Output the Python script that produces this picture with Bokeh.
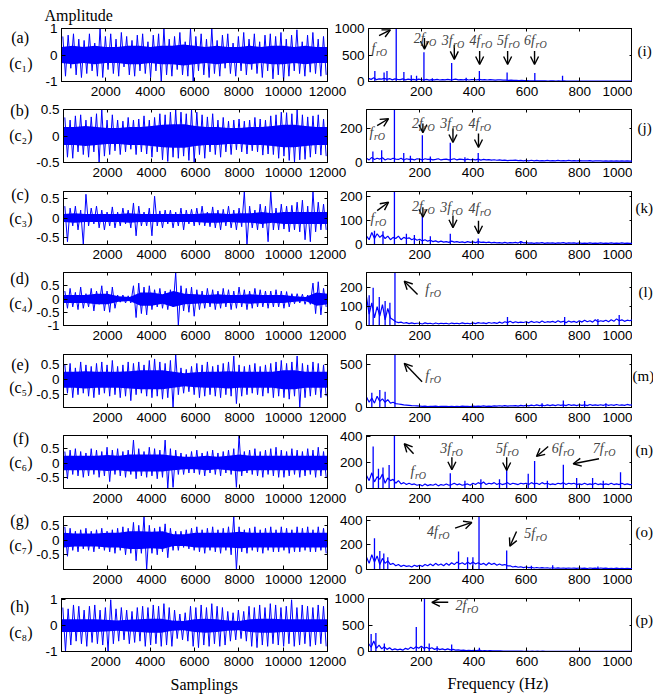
import numpy as np
from bokeh.plotting import figure
from bokeh.layouts import column, row
from bokeh.models import Range1d, LinearAxis, FixedTicker, Label, Arrow, OpenHead, Title
from bokeh.embed import file_html
from bokeh.resources import INLINE

BLUE = "#0000ff"
SANS = "Liberation Sans"
SERIF = "Liberation Serif"
ANN = "#444444"

# ---------------- left column: time signals (decimated samples) ----------
sig_a = [0.7,-0.8,0.75,-0.5,0.8,-0.75,0.6,-0.85,0.55,-0.7,
         0.8,-0.6,0.45,-0.8,1.0,-0.85,0.7,-0.55,0.8,-0.7,
         0.6,-0.8,0.85,-0.45,0.7,-0.75,0.55,-0.8,0.75,-0.6,
         0.8,-0.7,0.5,-0.85,0.75,-0.6,0.8,-1.0,1.0,-0.75,
         0.6,-0.8,0.7,-0.55,0.85,-0.75,0.5,-0.8,1.0,-1.0,
         0.7,-0.6,0.8,-0.75,0.6,-0.85,1.0,-0.7,0.55,-0.8,
         0.75,-0.5,0.8,-0.7,0.45,-0.8,0.7,-0.6,0.85,-0.75,
         0.6,-0.55,0.8,-0.7,0.5,-0.85,0.75,-0.6,0.8,-0.9,
         0.7,-0.75,0.85,-1.0,0.6,-0.8,0.75,-0.6,0.95,-0.7,
         0.5,-0.8,0.75,-0.65,0.85,-0.7,0.6,-0.8,0.7,-0.75]
sig_b = [0.35,-0.4,0.3,-0.42,0.38,-0.3,0.4,-0.35,0.3,-0.4,
         0.36,-0.3,0.42,-0.5,0.5,-0.38,0.3,-0.35,0.4,-0.28,
         0.3,-0.35,0.28,-0.3,0.35,-0.25,0.3,-0.35,0.32,-0.3,
         0.38,-0.34,0.3,-0.4,0.35,-0.3,0.42,-0.45,0.4,-0.48,
         0.45,-0.4,0.5,-0.42,0.45,-0.38,0.42,-0.46,0.5,-0.5,
         0.45,-0.35,0.4,-0.42,0.36,-0.3,0.42,-0.35,0.3,-0.4,
         0.35,-0.3,0.28,-0.35,0.3,-0.26,0.32,-0.3,0.28,-0.34,
         0.3,-0.28,0.35,-0.3,0.32,-0.36,0.3,-0.34,0.38,-0.35,
         0.4,-0.42,0.45,-0.38,0.44,-0.46,0.42,-0.5,0.5,-0.45,
         0.4,-0.44,0.36,-0.4,0.38,-0.34,0.4,-0.36,0.32,-0.38]
sig_c = [0.3,-0.6,0.25,-0.2,0.3,-0.3,0.2,-0.67,0.6,-0.2,
         0.25,-0.15,0.3,-0.25,0.2,-0.3,0.15,-0.2,0.28,-0.25,
         0.15,-0.2,0.25,-0.15,0.2,-0.25,0.38,-0.45,0.3,-0.2,
         0.15,-0.2,0.25,-0.45,0.55,-0.2,0.18,-0.25,0.2,-0.15,
         0.2,-0.25,0.15,-0.2,0.25,-0.3,0.2,-0.15,0.22,-0.2,
         0.25,-0.18,0.3,-0.2,0.15,-0.22,0.28,-0.25,0.2,-0.3,
         0.22,-0.2,0.3,-0.25,0.2,-0.3,0.25,-0.22,0.67,-0.67,
         0.3,-0.25,0.2,-0.3,0.35,-0.25,0.3,-0.6,0.67,-0.3,
         0.25,-0.3,0.35,-0.28,0.3,-0.35,0.32,-0.3,0.4,-0.35,
         0.45,-0.55,0.3,-0.6,0.67,-0.35,0.4,-0.3,0.35,-0.3]
sig_d = [0.3,-0.35,0.4,-0.3,0.25,-0.4,0.45,-0.35,0.2,-0.3,
         0.4,-0.45,0.3,-0.2,0.5,-0.45,0.3,-0.5,0.45,-0.35,
         0.15,-0.12,0.15,-0.15,0.12,-0.15,0.5,-0.7,0.6,-0.55,
         0.45,-0.6,0.5,-0.4,0.35,-0.3,0.4,-0.35,0.3,-0.4,
         0.35,-0.3,1.0,-1.0,0.5,-0.45,0.4,-0.5,0.45,-0.65,
         0.35,-0.4,0.3,-0.35,0.4,-0.3,0.35,-0.4,0.3,-0.35,
         0.4,-0.3,0.35,-0.4,0.3,-0.35,0.45,-0.3,0.35,-0.4,
         0.3,-0.35,0.4,-0.3,0.35,-0.3,0.3,-0.35,0.3,-0.3,
         0.35,-0.3,0.3,-0.35,0.28,-0.3,0.2,-0.18,0.2,-0.15,
         0.18,-0.2,0.15,-0.2,0.6,-0.55,0.65,-0.6,0.4,-0.3]
sig_e = [0.5,-0.45,0.55,-0.6,0.4,-0.5,0.6,-0.45,0.5,-0.55,
         0.45,-0.6,0.55,-0.5,0.6,-0.45,0.5,-0.55,0.65,-0.5,
         0.45,-0.6,0.5,-0.55,0.6,-0.7,0.55,-0.5,0.6,-0.45,
         0.5,-0.55,0.65,-0.6,0.7,-0.55,0.6,-0.65,0.55,-0.6,
         0.65,-0.93,0.85,-0.5,0.4,-0.45,0.35,-0.4,0.45,-0.5,
         0.55,-0.6,0.5,-0.55,0.6,-0.5,0.45,-0.55,0.5,-0.6,
         0.55,-0.5,0.6,-0.55,0.8,-0.8,0.5,-0.55,0.45,-0.5,
         0.5,-0.45,0.55,-0.5,0.45,-0.55,0.5,-0.45,0.55,-0.6,
         0.6,-0.55,0.65,-0.6,0.55,-0.65,0.6,-0.55,0.8,-0.93,
         0.55,-0.6,0.5,-0.55,0.6,-0.5,0.55,-0.6,0.5,-0.55]
sig_f = [0.4,-0.55,0.45,-0.4,0.5,-0.45,0.4,-0.5,0.35,-0.45,
         0.5,-0.4,0.45,-0.5,0.4,-0.45,0.55,-0.65,0.45,-0.4,
         0.5,-0.45,0.4,-0.5,0.45,-0.4,0.8,-0.55,0.5,-0.45,
         0.4,-0.5,0.55,-0.45,0.5,-0.55,0.45,-0.5,0.8,-0.89,
         0.5,-0.85,0.45,-0.4,0.35,-0.4,0.3,-0.35,0.4,-0.35,
         0.45,-0.4,0.35,-0.45,0.4,-0.35,0.45,-0.4,0.35,-0.45,
         0.4,-0.35,0.45,-0.4,0.5,-0.85,0.96,-0.45,0.4,-0.35,
         0.45,-0.4,0.5,-0.45,0.4,-0.5,0.45,-0.4,0.5,-0.45,
         0.55,-0.5,0.45,-0.5,0.4,-0.45,0.5,-0.4,0.45,-0.5,
         0.4,-0.45,0.5,-0.4,0.45,-0.5,0.55,-0.45,0.4,-0.5]
sig_g = [0.45,-0.55,0.4,-0.35,0.3,-0.4,0.35,-0.3,0.4,-0.35,
         0.3,-0.4,0.35,-0.3,0.4,-0.35,0.3,-0.4,0.35,-0.45,
         0.4,-0.35,0.45,-0.5,0.4,-0.45,0.6,-0.7,0.5,-0.45,
         0.8,-1.0,0.5,-0.45,0.4,-0.5,0.45,-0.4,0.55,-0.6,
         0.4,-0.35,0.3,-0.35,0.3,-0.25,0.35,-0.3,0.4,-0.35,
         0.45,-0.4,0.35,-0.45,0.4,-0.35,0.45,-0.4,0.35,-0.45,
         0.4,-0.35,0.45,-0.5,0.8,-1.0,0.45,-0.4,0.35,-0.45,
         0.4,-0.35,0.45,-0.4,0.35,-0.45,0.4,-0.35,0.45,-0.4,
         0.35,-0.4,0.45,-0.35,0.4,-0.45,0.35,-0.4,0.45,-0.4,
         0.4,-0.35,0.45,-0.4,0.35,-0.4,0.45,-0.35,0.4,-0.45]
sig_h = [0.7,-1.0,0.65,-0.75,0.8,-0.6,0.75,-0.7,0.6,-0.8,
         0.75,-0.65,0.8,-0.7,0.6,-0.75,0.7,-1.0,1.0,-0.7,
         0.65,-0.6,0.7,-0.55,0.6,-0.7,0.55,-0.65,0.7,-0.6,
         0.75,-0.8,0.7,-0.75,0.8,-0.7,0.75,-0.8,0.85,-0.75,
         0.7,-0.8,0.6,-0.5,0.45,-0.55,0.5,-0.6,0.75,-0.8,
         0.7,-0.85,0.8,-0.75,0.7,-0.8,0.85,-0.7,0.75,-0.8,
         0.7,-0.75,0.55,-0.6,0.5,-0.55,0.6,-0.5,0.55,-0.6,
         0.75,-0.8,0.7,-0.85,0.8,-0.75,0.7,-0.8,0.85,-0.7,
         0.8,-0.75,0.7,-0.8,0.75,-0.7,1.0,-0.8,0.7,-0.75,
         0.8,-0.7,0.75,-0.8,0.7,-0.75,0.8,-0.7,0.75,-0.8]

# dense core half-width of each signal, every 500 samples
core_a = [0.3,0.35,0.3,0.35,0.3,0.3,0.35,0.35,0.3,0.35,0.35,0.4,0.35,0.3,0.35,0.3,0.3,0.35,0.3,0.35,0.35,0.3,0.35,0.3,0.3]
core_b = [0.17,0.17,0.19,0.17,0.15,0.15,0.17,0.17,0.19,0.21,0.22,0.22,0.19,0.17,0.17,0.15,0.15,0.17,0.17,0.19,0.21,0.21,0.19,0.17,0.17]
core_c = [0.1,0.12,0.1,0.1,0.1,0.1,0.12,0.1,0.1,0.1,0.1,0.1,0.1,0.12,0.12,0.1,0.12,0.12,0.15,0.12,0.15,0.15,0.15,0.15,0.15]
core_d = [0.15,0.15,0.15,0.2,0.2,0.1,0.08,0.25,0.25,0.18,0.3,0.2,0.18,0.15,0.18,0.15,0.15,0.18,0.15,0.15,0.15,0.1,0.08,0.25,0.2]
core_e = [0.27,0.27,0.29,0.27,0.27,0.27,0.29,0.32,0.32,0.32,0.27,0.22,0.25,0.27,0.27,0.29,0.27,0.27,0.27,0.27,0.32,0.32,0.27,0.27,0.27]
core_f = [0.25,0.25,0.25,0.25,0.28,0.25,0.3,0.3,0.3,0.3,0.25,0.22,0.22,0.25,0.22,0.25,0.3,0.25,0.25,0.25,0.25,0.25,0.25,0.25,0.25]
core_g = [0.25,0.22,0.22,0.22,0.25,0.25,0.3,0.3,0.28,0.3,0.2,0.2,0.25,0.25,0.25,0.25,0.28,0.25,0.25,0.25,0.25,0.25,0.25,0.25,0.25]
core_h = [0.25,0.25,0.25,0.25,0.23,0.2,0.23,0.25,0.27,0.27,0.2,0.18,0.25,0.27,0.25,0.2,0.18,0.25,0.27,0.27,0.25,0.25,0.25,0.25,0.25]

left_yrange = [(-1, 1), (-0.5, 0.5), (-0.67, 0.67), (-1, 1), (-0.93, 0.85), (-0.89, 0.96), (-1.0, 0.8), (-1, 1.05)]
left_yticks = [[-1, 0, 1], [-0.5, 0, 0.5], [-0.5, 0, 0.5], [-1, -0.5, 0, 0.5], [-0.5, 0, 0.5],
               [-0.5, 0, 0.5], [-0.5, 0, 0.5], [-1, 0, 1]]
left_xticks = [2000, 4000, 6000, 8000, 10000, 12000]
left_tags = ["(a)", "(b)", "(c)", "(d)", "(e)", "(f)", "(g)", "(h)"]
left_ctags = ["(c\u2081)", "(c\u2082)", "(c\u2083)", "(c\u2084)", "(c\u2085)", "(c\u2086)", "(c\u2087)", "(c\u2088)"]

# ---------------- right column: spectra (floor every 10 Hz + discrete peaks) ----------------
floor_i = [60,40,70,35,50,45,60,40,55,30, 50,40,35,50,30,45,35,40,30,45, 35,30,40,25,35,30,40,28,35,30,
           40,30,35,45,30,35,30,40,28,35, 35,30,40,30,35,28,35,30,25,30, 30,25,28,22,25,20,22,18,20,15,
           15,12,14,10,12,10,12,10,8,10, 10,8,10,8,10,8,9,8,7,8, 8,7,8,7,8,6,7,8,6,7, 7,6,7,6,7,6,7,6,7,6, 6]
floor_j = [25,15,30,18,25,20,28,15,22,18, 25,20,18,25,15,22,18,20,15,22, 20,15,22,18,20,15,18,22,15,18,
           20,15,18,22,15,20,18,15,20,16, 18,15,20,14,18,15,17,14,16,13, 15,12,14,11,13,12,14,11,12,10,
           12,10,13,10,12,9,11,10,12,9, 11,9,12,10,11,9,12,10,11,9, 11,9,10,9,11,8,10,9,10,8, 10,8,9,8,10,8,9,8,9,8, 8]
floor_k = [35,20,50,25,45,30,40,25,35,20, 30,25,35,20,30,25,28,20,25,18, 22,15,20,14,18,12,15,10,14,10,
           12,9,14,10,12,9,11,8,12,9, 11,8,12,9,10,8,10,7,9,7, 8,6,9,6,8,7,9,6,12,7,
           8,6,7,5,7,6,8,5,7,6, 7,5,7,6,8,5,7,6,7,5, 7,5,6,5,7,5,6,5,7,5, 6,5,7,5,6,5,7,5,6,5, 5]
floor_l = [150,60,120,40,100,50,110,30,90,40, 30,20,15,18,12,15,10,14,10,12, 12,8,14,10,12,8,13,9,12,10,
           12,8,13,10,12,9,14,10,12,9, 14,10,15,12,14,10,16,12,15,11, 18,12,20,15,22,14,20,15,18,16,
           20,14,22,16,20,15,24,16,20,18, 22,16,25,18,22,15,24,18,22,16, 25,18,28,20,25,18,30,20,25,22,
           28,20,30,22,35,25,30,22,28,25, 30]
floor_m = [120,60,110,50,130,70,100,60,90,50, 60,45,40,35,30,28,25,22,20,18, 15,12,15,10,14,12,15,10,12,14,
           12,10,14,11,13,10,15,12,14,10, 15,12,16,13,18,14,16,12,18,15, 20,15,22,16,20,18,22,16,25,18,
           25,18,28,20,30,22,28,20,30,22, 30,22,32,25,30,22,35,25,30,22, 32,25,30,22,35,25,30,24,32,25,
           35,25,32,24,35,26,30,25,35,28, 30]
floor_n = [100,60,120,50,90,70,110,40,80,60, 70,40,60,35,45,30,40,30,35,25, 30,20,35,22,30,25,35,20,30,25,
           35,25,30,40,28,35,25,30,35,25, 40,30,45,35,50,30,40,35,45,30, 40,30,35,45,30,40,35,30,40,35,
           40,30,45,35,40,30,45,35,40,30, 35,30,40,35,45,30,40,35,40,30, 35,30,40,30,35,30,40,30,35,30,
           35,30,40,30,35,30,40,30,35,30, 30]
floor_o = [100,50,120,60,110,40,90,50,70,40, 50,30,40,25,35,25,30,20,35,25, 35,25,40,30,45,30,50,35,45,30,
           50,35,55,40,60,45,55,40,60,45, 60,45,55,40,50,35,55,40,50,35, 45,35,40,30,30,20,25,18,22,15,
           20,15,18,12,16,12,15,12,14,10, 14,10,13,10,12,9,12,10,11,9, 12,9,11,8,12,9,11,8,12,9,
           11,8,10,8,11,8,10,8,10,8, 8]
floor_p = [150,80,200,60,120,50,90,40,70,30, 50,30,45,25,60,40,80,50,90,60, 100,60,80,50,70,40,60,35,50,30,
           50,30,40,25,30,20,25,15,20,15, 20,15,25,12,18,12,15,10,14,10, 10,8,9,7,8,6,7,6,7,5,
           6,5,6,5,6,5,6,5,5,4, 5,4,5,4,5,4,5,4,5,4, 5,4,5,4,5,4,5,4,5,4, 5,4,5,4,5,4,5,4,5,4, 4]

peakf_i = [24, 59, 70, 105, 134, 162, 182, 210, 242, 315, 370, 420, 525, 630, 735]
peaka_i = [200, 170, 200, 1000, 180, 120, 110, 550, 60, 350, 70, 200, 170, 160, 110]
peakf_j = [24, 57, 105, 140, 165, 210, 240, 315, 370, 420]
peaka_j = [65, 72, 310, 55, 40, 160, 35, 115, 30, 55]
peakf_k = [30, 62, 105, 150, 180, 210, 240, 315, 420, 580]
peaka_k = [58, 55, 222, 45, 40, 120, 35, 45, 25, 15]
peakf_l = [10, 25, 48, 70, 88, 107, 530, 745, 870, 950]
peaka_l = [160, 200, 150, 130, 120, 280, 45, 45, 35, 55]
peakf_m = [20, 50, 70, 107, 660, 740, 820, 900]
peaka_m = [170, 200, 180, 610, 50, 80, 75, 50]
peakf_n = [25, 45, 62, 85, 105, 315, 370, 430, 500, 527, 608, 632, 680, 740, 790, 850, 890, 955]
peaka_n = [320, 150, 160, 180, 405, 117, 60, 70, 70, 150, 112, 210, 60, 182, 80, 80, 60, 125]
peakf_o = [30, 50, 65, 80, 346, 380, 400, 423, 527, 620, 700, 870]
peaka_o = [253, 150, 130, 100, 146, 100, 100, 430, 154, 30, 35, 25]
peakf_p = [10, 28, 60, 181, 212, 230, 260, 315, 420]
peaka_p = [330, 350, 150, 460, 1000, 150, 100, 130, 70]

right_ymax = [1000, 310, 222, 280, 610, 405, 430, 1000]
right_yticks = [[0, 500, 1000], [0, 200], [0, 100, 200], [0, 100, 200], [0, 500], [0, 200, 400], [0, 200, 400], [0, 500, 1000]]
right_xticks = [200, 400, 600, 800, 1000]
right_tags = ["(i)", "(j)", "(k)", "(l)", "(m)", "(n)", "(o)", "(p)"]

# annotations: (prefix, freq, amplitude) and arrows (f0, a0, f1, a1) with head at the second point
ann = [
    [("f", 11, 620), ("2f", 171, 802), ("3f", 277, 783), ("4f", 383, 783), ("5f", 487, 783), ("6f", 589, 783)],
    [("f", 11, 175), ("2f", 171, 230), ("3f", 277, 230), ("4f", 383, 230)],
    [("f", 15, 110), ("2f", 171, 159), ("3f", 277, 154), ("4f", 383, 151)],
    [("f", 221, 190)],
    [("f", 221, 365)],
    [("f", 165, 130), ("3f", 277, 303), ("5f", 487, 303), ("6f", 696, 303), ("7f", 851, 303)],
    [("4f", 227, 309), ("5f", 593, 296)],
    [("2f", 330, 865)],
]
arrows = [
    [(40, 865, 83, 975), (212, 821, 212, 610), (325, 692, 325, 417), (421, 577, 421, 321), (527, 577, 527, 321), (629, 577, 629, 321)],
    [(40, 216, 83, 256), (212, 228, 212, 175), (325, 199, 325, 117), (421, 170, 421, 88)],
    [(40, 142, 83, 177), (212, 156, 212, 114), (325, 121, 325, 70), (421, 100, 421, 45)],
    [(192, 164, 142, 234)],
    [(209, 297, 142, 508)],
    [(177, 265, 142, 342), (321, 239, 321, 143), (527, 239, 527, 138), (683, 321, 639, 245), (874, 227, 777, 189)],
    [(333, 336, 396, 382), (564, 309, 539, 188)],
    [(302, 929, 240, 929)],
]

signals = [sig_a, sig_b, sig_c, sig_d, sig_e, sig_f, sig_g, sig_h]
cores = [core_a, core_b, core_c, core_d, core_e, core_f, core_g, core_h]
floors = [floor_i, floor_j, floor_k, floor_l, floor_m, floor_n, floor_o, floor_p]
peakfs = [peakf_i, peakf_j, peakf_k, peakf_l, peakf_m, peakf_n, peakf_o, peakf_p]
peakas = [peaka_i, peaka_j, peaka_k, peaka_l, peaka_m, peaka_n, peaka_o, peaka_p]

# ---------------- layout (page pixels) ----------------
PAGE_H = 700
ROW_H = [103, 81, 82, 81, 82, 81, 81, 109]
ROW_TOP = [28, 6, 7, 6, 7, 6, 6, 7]
FRAME_H = 53
FRAME_T = [28, 109, 191, 272, 354, 435, 516, 598]
LEFT_DY = [(8.7, 35.3), (1, 25.7), (2.7, 26.7), (5.7, 31.4), (10, 33.4), (3, 27.3), (4.3, 29.3), (8.3, 34)]
RIGHT_DY = [22, 18.7, 16.6, 19.4, 21.7, 14, 15, 21.6]
RIGHT_X = [637, 637, 635, 638, 632, 635, 635, 635]


def style(p, xticks, yticks):
    p.xgrid.visible = False
    p.ygrid.visible = False
    p.outline_line_color = "black"
    p.background_fill_color = "white"
    for ax, ticks in ((p.xaxis[0], xticks), (p.yaxis[0], yticks)):
        ax.ticker = FixedTicker(ticks=ticks)
        ax.major_label_overrides = {t: ("%g" % t) for t in ticks}
        ax.major_tick_in = 4
        ax.major_tick_out = 0
        ax.minor_tick_line_color = None
        ax.axis_line_color = "black"
        ax.major_tick_line_color = "black"
        ax.major_label_text_font = SANS
        ax.major_label_text_font_size = "13.5px"
        ax.major_label_text_color = "black"
    p.xaxis[0].major_label_standoff = 5
    p.yaxis[0].major_label_standoff = 4
    for side, ticks in (("above", xticks), ("right", yticks)):
        ax = LinearAxis(ticker=FixedTicker(ticks=ticks), major_label_text_font_size="1px",
                        major_label_text_color=None, major_label_standoff=0, major_tick_in=3,
                        major_tick_out=0, minor_tick_line_color=None, axis_line_color="black")
        p.add_layout(ax, side)


def label(p, x, y, text, dx=0, dy=0, size="16px", font=SERIF, fstyle="normal", color="black",
          align="left", baseline="middle"):
    p.add_layout(Label(x=x, y=y, x_offset=dx, y_offset=dy, text=text, text_font=font,
                       text_font_size=size, text_font_style=fstyle, text_color=color,
                       text_align=align, text_baseline=baseline))


def side_title(p, text, where, offset, standoff):
    t = Title(text=text, align="left", offset=offset, standoff=standoff, text_font=SERIF,
              text_font_size="16px", text_font_style="normal", text_color="black")
    p.add_layout(t, where)


def strip(width, x0, x1):
    s = figure(width=width, height=PAGE_H, x_range=Range1d(x0, x1), y_range=Range1d(PAGE_H, 0),
               x_axis_type=None, y_axis_type=None, output_backend="svg", toolbar_location=None,
               min_border_left=0, min_border_right=0, min_border_top=0, min_border_bottom=0)
    s.outline_line_color = None
    return s


sig_x = np.arange(len(sig_a)) * 120 + 60
core_x = np.arange(len(core_a)) * 500
freq = np.arange(len(floor_i)) * 10

# strips holding the panel tags on the left and on the right
lstrip = strip(33, 0, 33)
rstrip = strip(21, 632, 653)
for i in range(8):
    label(lstrip, 28.5, FRAME_T[i] + LEFT_DY[i][0], left_tags[i], align="right")
    label(lstrip, 32, FRAME_T[i] + LEFT_DY[i][1], left_ctags[i], align="right")
    label(rstrip, RIGHT_X[i], FRAME_T[i] + RIGHT_DY[i], right_tags[i], size="15px")

rows = []
for i in range(8):
    h = ROW_H[i]
    top_b = ROW_TOP[i]
    bot_b = h - top_b - FRAME_H
    y0, y1 = left_yrange[i]
    L = figure(width=314, height=h, x_range=Range1d(0, 12000), y_range=Range1d(y0, y1),
               output_backend="svg", toolbar_location=None,
               min_border_left=28, min_border_right=20, min_border_top=top_b, min_border_bottom=bot_b)
    style(L, left_xticks, left_yticks[i])
    core = np.array(cores[i])
    L.varea(x=core_x, y1=-core, y2=core, fill_color=BLUE)
    L.line(sig_x, signals[i], line_color=BLUE, line_width=1)
    if i == 0:
        side_title(L, "Amplitude", "above", -17, 9)
    if i == 7:
        side_title(L, "Samplings", "below", 109, 10)

    ym = right_ymax[i]
    R = figure(width=301, height=h, x_range=Range1d(0, 1000), y_range=Range1d(0, ym),
               output_backend="svg", toolbar_location=None,
               min_border_left=35, min_border_right=0, min_border_top=top_b, min_border_bottom=bot_b)
    R.border_fill_alpha = 0
    R.margin = (0, 0, 0, -16)
    style(R, right_xticks, right_yticks[i])
    R.line(freq, floors[i], line_color=BLUE, line_width=1.2)
    pf = peakfs[i]
    R.segment(x0=pf, y0=[0] * len(pf), x1=pf, y1=peakas[i], line_color=BLUE, line_width=1.3)
    for (x0a, y0a, x1a, y1a) in arrows[i]:
        R.add_layout(Arrow(end=OpenHead(size=8, line_width=1.4, line_color="black"),
                           x_start=x0a, y_start=y0a, x_end=x1a, y_end=y1a,
                           line_color="black", line_width=1.4))
    for (pre, fx, fy) in ann[i]:
        label(R, fx, fy, pre, size="14px", fstyle="italic", color=ANN)
        label(R, fx, fy, "rO", 4.5 if pre == "f" else 11.5, -4, size="10px", fstyle="italic", color=ANN)
    if i == 7:
        side_title(R, "Frequency (Hz)", "below", 79, 9)
    rows.append(row(L, R))

layout = row(lstrip, column(*rows), rstrip)
open("out.html", "w").write(file_html(layout, INLINE, title="spectra"))
